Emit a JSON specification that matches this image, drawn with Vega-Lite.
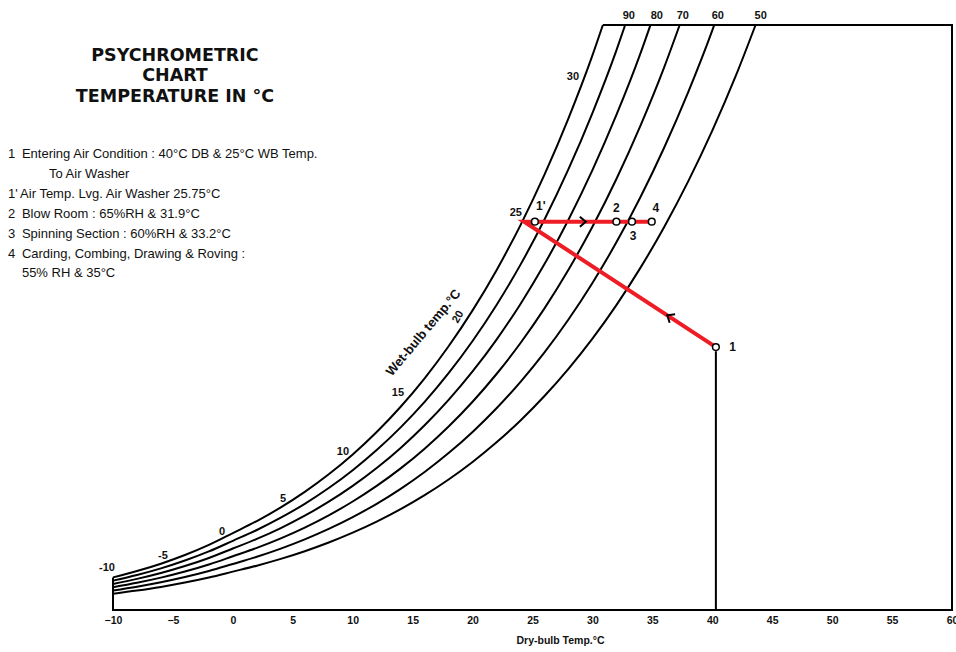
{
  "$schema": "https://vega.github.io/schema/vega-lite/v6.json",
  "width": 839,
  "height": 585,
  "autosize": {"type": "none"},
  "padding": {"left": 113, "top": 25, "right": 4, "bottom": 42},
  "background": "white",
  "config": {"view": {"stroke": null}, "font": "Liberation Sans"},
  "datasets": {
    "curves": [
      {"rh":100,"T":-10,"W":1.600},{"rh":100,"T":-8,"W":1.910},{"rh":100,"T":-6,"W":2.270},{"rh":100,"T":-4,"W":2.696},{"rh":100,"T":-2,"W":3.194},{"rh":100,"T":0,"W":3.775},{"rh":100,"T":2,"W":4.364},{"rh":100,"T":4,"W":5.034},{"rh":100,"T":6,"W":5.795},{"rh":100,"T":8,"W":6.657},{"rh":100,"T":10,"W":7.631},{"rh":100,"T":12,"W":8.732},{"rh":100,"T":14,"W":9.972},{"rh":100,"T":16,"W":11.368},{"rh":100,"T":18,"W":12.938},{"rh":100,"T":20,"W":14.699},{"rh":100,"T":22,"W":16.673},{"rh":100,"T":24,"W":18.884},{"rh":100,"T":26,"W":21.358},{"rh":100,"T":28,"W":24.122},{"rh":100,"T":30,"W":27.209},{"rh":100,"T":30.87,"W":28.7},
      {"rh":90,"T":-10,"W":1.440},{"rh":90,"T":-8,"W":1.719},{"rh":90,"T":-6,"W":2.043},{"rh":90,"T":-4,"W":2.427},{"rh":90,"T":-2,"W":2.873},{"rh":90,"T":0,"W":3.395},{"rh":90,"T":2,"W":3.925},{"rh":90,"T":4,"W":4.527},{"rh":90,"T":6,"W":5.211},{"rh":90,"T":8,"W":5.985},{"rh":90,"T":10,"W":6.860},{"rh":90,"T":12,"W":7.847},{"rh":90,"T":14,"W":8.961},{"rh":90,"T":16,"W":10.213},{"rh":90,"T":18,"W":11.620},{"rh":90,"T":20,"W":13.198},{"rh":90,"T":22,"W":14.966},{"rh":90,"T":24,"W":16.944},{"rh":90,"T":26,"W":19.156},{"rh":90,"T":28,"W":21.626},{"rh":90,"T":30,"W":24.382},{"rh":90,"T":32,"W":27.454},{"rh":90,"T":32.73,"W":28.7},
      {"rh":80,"T":-10,"W":1.279},{"rh":80,"T":-8,"W":1.527},{"rh":80,"T":-6,"W":1.815},{"rh":80,"T":-4,"W":2.156},{"rh":80,"T":-2,"W":2.553},{"rh":80,"T":0,"W":3.016},{"rh":80,"T":2,"W":3.487},{"rh":80,"T":4,"W":4.021},{"rh":80,"T":6,"W":4.627},{"rh":80,"T":8,"W":5.314},{"rh":80,"T":10,"W":6.090},{"rh":80,"T":12,"W":6.966},{"rh":80,"T":14,"W":7.952},{"rh":80,"T":16,"W":9.062},{"rh":80,"T":18,"W":10.308},{"rh":80,"T":20,"W":11.704},{"rh":80,"T":22,"W":13.268},{"rh":80,"T":24,"W":15.016},{"rh":80,"T":26,"W":16.970},{"rh":80,"T":28,"W":19.149},{"rh":80,"T":30,"W":21.579},{"rh":80,"T":32,"W":24.285},{"rh":80,"T":34,"W":27.296},{"rh":80,"T":34.84,"W":28.7},
      {"rh":70,"T":-10,"W":1.119},{"rh":70,"T":-8,"W":1.336},{"rh":70,"T":-6,"W":1.588},{"rh":70,"T":-4,"W":1.886},{"rh":70,"T":-2,"W":2.233},{"rh":70,"T":0,"W":2.637},{"rh":70,"T":2,"W":3.049},{"rh":70,"T":4,"W":3.516},{"rh":70,"T":6,"W":4.045},{"rh":70,"T":8,"W":4.645},{"rh":70,"T":10,"W":5.323},{"rh":70,"T":12,"W":6.087},{"rh":70,"T":14,"W":6.947},{"rh":70,"T":16,"W":7.915},{"rh":70,"T":18,"W":9.001},{"rh":70,"T":20,"W":10.217},{"rh":70,"T":22,"W":11.578},{"rh":70,"T":24,"W":13.099},{"rh":70,"T":26,"W":14.798},{"rh":70,"T":28,"W":16.692},{"rh":70,"T":30,"W":18.800},{"rh":70,"T":32,"W":21.145},{"rh":70,"T":34,"W":23.754},{"rh":70,"T":36,"W":26.650},{"rh":70,"T":37.28,"W":28.7},
      {"rh":60,"T":-10,"W":0.959},{"rh":60,"T":-8,"W":1.144},{"rh":60,"T":-6,"W":1.360},{"rh":60,"T":-4,"W":1.616},{"rh":60,"T":-2,"W":1.913},{"rh":60,"T":0,"W":2.259},{"rh":60,"T":2,"W":2.611},{"rh":60,"T":4,"W":3.011},{"rh":60,"T":6,"W":3.464},{"rh":60,"T":8,"W":3.977},{"rh":60,"T":10,"W":4.557},{"rh":60,"T":12,"W":5.210},{"rh":60,"T":14,"W":5.945},{"rh":60,"T":16,"W":6.771},{"rh":60,"T":18,"W":7.698},{"rh":60,"T":20,"W":8.737},{"rh":60,"T":22,"W":9.898},{"rh":60,"T":24,"W":11.195},{"rh":60,"T":26,"W":12.641},{"rh":60,"T":28,"W":14.253},{"rh":60,"T":30,"W":16.045},{"rh":60,"T":32,"W":18.037},{"rh":60,"T":34,"W":20.251},{"rh":60,"T":36,"W":22.704},{"rh":60,"T":38,"W":25.424},{"rh":60,"T":40,"W":28.439},{"rh":60,"T":40.16,"W":28.7},
      {"rh":50,"T":-10,"W":0.799},{"rh":50,"T":-8,"W":0.954},{"rh":50,"T":-6,"W":1.133},{"rh":50,"T":-4,"W":1.346},{"rh":50,"T":-2,"W":1.593},{"rh":50,"T":0,"W":1.882},{"rh":50,"T":2,"W":2.175},{"rh":50,"T":4,"W":2.507},{"rh":50,"T":6,"W":2.884},{"rh":50,"T":8,"W":3.311},{"rh":50,"T":10,"W":3.793},{"rh":50,"T":12,"W":4.336},{"rh":50,"T":14,"W":4.947},{"rh":50,"T":16,"W":5.633},{"rh":50,"T":18,"W":6.403},{"rh":50,"T":20,"W":7.264},{"rh":50,"T":22,"W":8.227},{"rh":50,"T":24,"W":9.301},{"rh":50,"T":26,"W":10.499},{"rh":50,"T":28,"W":11.832},{"rh":50,"T":30,"W":13.314},{"rh":50,"T":32,"W":14.959},{"rh":50,"T":34,"W":16.784},{"rh":50,"T":36,"W":18.806},{"rh":50,"T":38,"W":21.043},{"rh":50,"T":40,"W":23.521},{"rh":50,"T":42,"W":26.262},{"rh":50,"T":43.61,"W":28.7}
    ],
    "frame": [
      {"g":"frame","o":1,"T":30.87,"W":28.7},{"g":"frame","o":2,"T":60,"W":28.7},{"g":"frame","o":3,"T":60,"W":0},{"g":"frame","o":4,"T":-10,"W":0},{"g":"frame","o":5,"T":-10,"W":1.6},
      {"g":"db40","o":1,"T":40.3,"W":0},{"g":"db40","o":2,"T":40.3,"W":12.7}
    ],
    "process": [
      {"o":1,"T":40.3,"W":12.9},{"o":2,"T":24.3,"W":19.05},{"o":3,"T":34.95,"W":19.05}
    ],
    "states": [
      {"state":"1'","T":25.2,"W":19.05},{"state":"2","T":32.0,"W":19.05},{"state":"3","T":33.3,"W":19.05},{"state":"4","T":34.95,"W":19.05},{"state":"1","T":40.3,"W":12.9}
    ],
    "stateLabels": [
      {"label":"1","T":41.7,"W":12.9},{"label":"1'","T":25.7,"W":19.8},{"label":"2","T":32.0,"W":19.7},{"label":"3","T":33.4,"W":18.35},{"label":"4","T":35.3,"W":19.7}
    ],
    "rhLabels": [
      {"label":"90","T":33.04,"W":29.15},{"label":"80","T":35.37,"W":29.15},{"label":"70","T":37.54,"W":29.15},{"label":"60","T":40.46,"W":29.15},{"label":"50","T":44.04,"W":29.15}
    ],
    "wbLabels": [
      {"label":"-10","T":-10.5,"W":2.06},{"label":"-5","T":-5.83,"W":2.65},{"label":"0","T":-0.91,"W":3.83},{"label":"5","T":4.18,"W":5.45},{"label":"10","T":9.18,"W":7.75},{"label":"15","T":13.77,"W":10.65},{"label":"25","T":23.61,"W":19.48},{"label":"30","T":28.37,"W":26.15}
    ],
    "wbRotated": [
      {"label":"Wet-bulb temp.°C","T":15.9,"W":13.6}
    ],
    "wb20": [
      {"label":"20","T":18.8,"W":14.38}
    ],
    "title": [
      {"label":"PSYCHROMETRIC","T":-4.83,"W":27.2},{"label":"CHART","T":-4.83,"W":26.2},{"label":"TEMPERATURE IN °C","T":-4.83,"W":25.19}
    ],
    "notes": [
      {"label":"1","T":-18.76,"W":22.37},
      {"label":"Entering Air Condition : 40°C DB & 25°C WB Temp.","T":-17.6,"W":22.37},
      {"label":"To Air Washer","T":-15.34,"W":21.39},
      {"label":"1'","T":-18.76,"W":20.41},
      {"label":"Air Temp. Lvg. Air Washer 25.75°C","T":-17.75,"W":20.41},
      {"label":"2","T":-18.76,"W":19.43},
      {"label":"Blow Room : 65%RH & 31.9°C","T":-17.6,"W":19.43},
      {"label":"3","T":-18.76,"W":18.45},
      {"label":"Spinning Section : 60%RH & 33.2°C","T":-17.6,"W":18.45},
      {"label":"4","T":-18.76,"W":17.47},
      {"label":"Carding, Combing, Drawing & Roving :","T":-17.6,"W":17.47},
      {"label":"55% RH & 35°C","T":-17.6,"W":16.54}
    ],
    "arrowH": [{"T":29.2,"W":19.05}],
    "arrowD": [{"T":36.46,"W":14.38}]
  },
  "encoding": {
    "x": {"field":"T","type":"quantitative","scale":{"domain":[-10,60],"nice":false,"zero":false},
      "axis":{"values":[-10,-5,0,5,10,15,20,25,30,35,40,45,50,55,60],"domain":false,"ticks":false,"grid":false,
        "labelFont":"Liberation Sans","labelFontSize":10.5,"labelFontWeight":"bold","labelColor":"#111","labelPadding":5,"labelFlush":false,
        "title":"Dry-bulb Temp.°C","titleFont":"Liberation Sans","titleFontSize":10.5,"titleFontWeight":"bold","titleColor":"#111","titleX":447,"titleY":30,"titleBaseline":"middle","titleAnchor":"middle","titleAlign":"center"}},
    "y": {"field":"W","type":"quantitative","scale":{"domain":[0,28.7],"nice":false,"zero":false},"axis":null}
  },
  "layer": [
    {"data":{"name":"curves"},"mark":{"type":"line","color":"#000","strokeWidth":2,"interpolate":"monotone"},
     "encoding":{"detail":{"field":"rh","type":"nominal"}}},
    {"data":{"name":"frame"},"mark":{"type":"line","color":"#000","strokeWidth":2},
     "encoding":{"detail":{"field":"g","type":"nominal"},"order":{"field":"o","type":"quantitative"}}},
    {"data":{"name":"process"},"mark":{"type":"line","color":"#ee1c25","strokeWidth":4},
     "encoding":{"order":{"field":"o","type":"quantitative"}}},
    {"data":{"name":"arrowH"},"mark":{"type":"point","shape":"M-0.6,-1L0.6,0L-0.6,1","filled":false,"stroke":"#000","strokeWidth":2,"size":100,"opacity":1},"encoding":{}},
    {"data":{"name":"arrowD"},"mark":{"type":"point","shape":"M-0.6,-1L0.6,0L-0.6,1","filled":false,"stroke":"#000","strokeWidth":2,"size":100,"angle":213,"opacity":1},"encoding":{}},
    {"data":{"name":"states"},"mark":{"type":"point","shape":"circle","filled":true,"fill":"#fff","stroke":"#000","strokeWidth":1.5,"size":45,"opacity":1},"encoding":{}},
    {"data":{"name":"stateLabels"},"mark":{"type":"text","font":"Liberation Sans","fontSize":12,"fontWeight":"bold","color":"#111","align":"center","baseline":"middle"},
     "encoding":{"text":{"field":"label"}}},
    {"data":{"name":"rhLabels"},"mark":{"type":"text","font":"Liberation Sans","fontSize":11,"fontWeight":"bold","color":"#111","align":"center","baseline":"middle"},
     "encoding":{"text":{"field":"label"}}},
    {"data":{"name":"wbLabels"},"mark":{"type":"text","font":"Liberation Sans","fontSize":11,"fontWeight":"bold","color":"#111","align":"center","baseline":"middle"},
     "encoding":{"text":{"field":"label"}}},
    {"data":{"name":"wb20"},"mark":{"type":"text","font":"Liberation Sans","fontSize":11,"fontWeight":"bold","color":"#111","align":"center","baseline":"middle","angle":300},
     "encoding":{"text":{"field":"label"}}},
    {"data":{"name":"wbRotated"},"mark":{"type":"text","font":"Liberation Sans","fontSize":13,"fontWeight":"bold","color":"#111","align":"center","baseline":"middle","angle":310},
     "encoding":{"text":{"field":"label"}}},
    {"data":{"name":"title"},"mark":{"type":"text","font":"DejaVu Sans","fontSize":17.5,"fontWeight":"bold","color":"#111","align":"center","baseline":"middle"},
     "encoding":{"text":{"field":"label"}}},
    {"data":{"name":"notes"},"mark":{"type":"text","font":"Liberation Sans","fontSize":13,"color":"#111","align":"left","baseline":"middle"},
     "encoding":{"text":{"field":"label"}}}
  ]
}
